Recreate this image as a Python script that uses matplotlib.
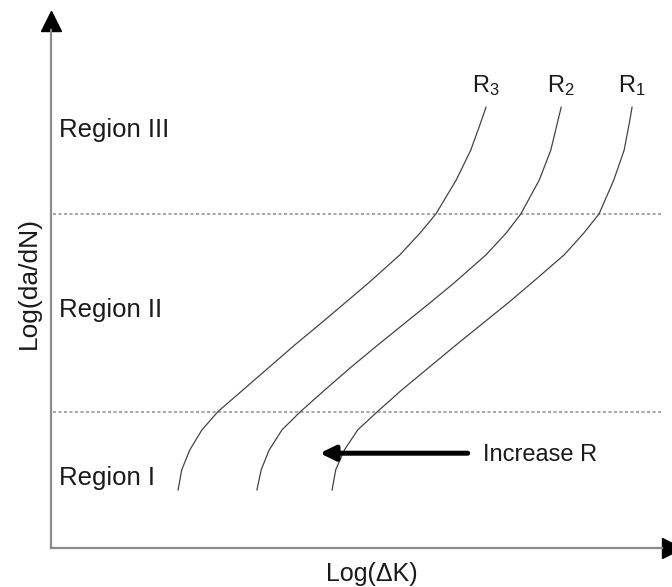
import matplotlib.pyplot as plt

plt.rcParams['font.family'] = ['Liberation Sans', 'DejaVu Sans']
plt.rcParams['mathtext.fontset'] = 'custom'
plt.rcParams['mathtext.rm'] = 'Liberation Sans'
plt.rcParams['mathtext.it'] = 'Liberation Sans:italic'

# values, in axis units (0..10 on both axes)
log_dadn = [1.12, 1.51, 1.89, 2.28, 2.63, 3.05, 3.49, 3.92, 4.34, 4.73, 5.12,
            5.66, 6.08, 6.45, 7.10, 7.68, 8.17, 8.51]
log_dk_r3 = [2.08, 2.14, 2.27, 2.47, 2.73, 3.14, 3.57, 3.99, 4.42, 4.81, 5.20,
             5.71, 6.04, 6.30, 6.63, 6.87, 7.02, 7.12]
log_dk_r2 = [3.37, 3.44, 3.57, 3.78, 4.08, 4.48, 4.91, 5.35, 5.79, 6.20, 6.60,
             7.12, 7.45, 7.69, 7.99, 8.18, 8.28, 8.35]
log_dk_r1 = [4.60, 4.66, 4.80, 5.02, 5.34, 5.74, 6.19, 6.63, 7.07, 7.48, 7.87,
             8.40, 8.72, 8.97, 9.21, 9.38, 9.46, 9.51]
curve_labels = ["R$_3$", "R$_2$", "R$_1$"]

region_bounds = [2.625, 6.45]
region_names = ["Region I", "Region II", "Region III"]
region_label_y = [1.35, 4.59, 8.07]

fig = plt.figure(figsize=(6.72, 5.87), dpi=100)
ax = fig.add_axes([51 / 672, 39 / 587, 611 / 672, 518 / 587])
ax.set_xlim(0, 10)
ax.set_ylim(0, 10)

for s in ["top", "right"]:
    ax.spines[s].set_visible(False)
for s in ["left", "bottom"]:
    ax.spines[s].set_color("#8c8c8c")
    ax.spines[s].set_linewidth(1.6)
ax.set_xticks([])
ax.set_yticks([])

# arrow heads on the axes
ax.plot([0], [1.017], marker="^", color="black", markersize=14, transform=ax.transAxes, clip_on=False)
ax.plot([1.016], [0], marker=">", color="black", markersize=14, transform=ax.transAxes, clip_on=False)

for b in region_bounds:
    ax.axhline(b, xmin=0.003, xmax=1.0, color="#8f8f8f", lw=1.1, ls=(0, (2, 1.6)))

for xs, lab in zip([log_dk_r3, log_dk_r2, log_dk_r1], curve_labels):
    ax.plot(xs, log_dadn, color="#444444", lw=0.9)
    ax.annotate(lab, xy=(xs[-1], log_dadn[-1]), xytext=(0, 11), textcoords="offset points",
                ha="center", va="baseline", fontsize=17, color="#1a1a1a")

for name, y in zip(region_names, region_label_y):
    ax.text(0.13, y, name, ha="left", va="center", fontsize=18.5, color="#1a1a1a")

ax.annotate("", xy=(4.40, 1.83), xytext=(6.82, 1.83),
            arrowprops=dict(arrowstyle="-|>,head_length=0.45,head_width=0.22",
                            lw=3.6, color="black", mutation_scale=20, shrinkA=0, shrinkB=0))
ax.text(7.07, 1.80, "Increase R", ha="left", va="center", fontsize=17, color="#1a1a1a")

ax.text(0.525, -0.05, "Log(ΔK)", transform=ax.transAxes, ha="center", va="center",
        fontsize=18, color="#1a1a1a")
ax.text(-0.036, 0.512, "Log(da/dN)", transform=ax.transAxes, ha="center", va="center",
        rotation=90, fontsize=19, color="#1a1a1a")

plt.savefig("out.png", dpi=100)
